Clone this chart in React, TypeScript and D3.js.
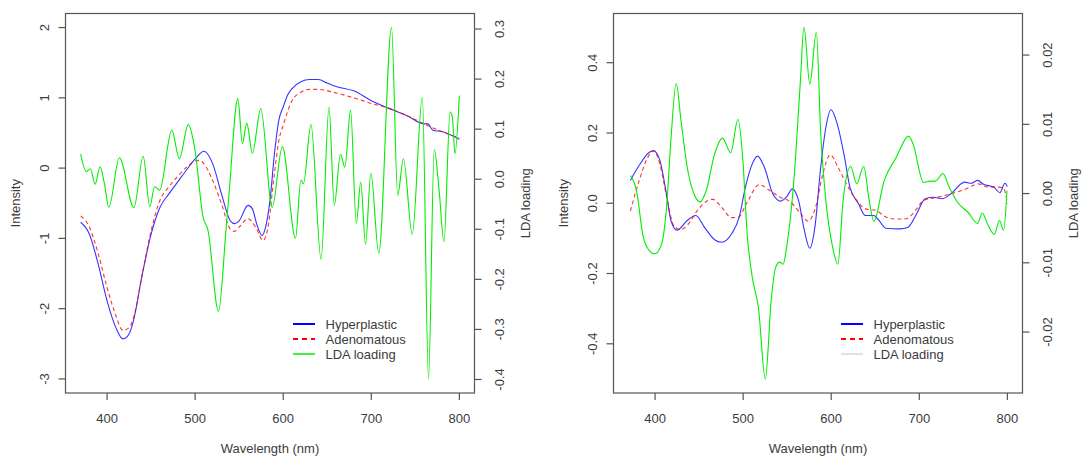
import React from 'react';
import * as d3 from 'd3';

// wavelength (nm), value pairs
const leftHyper: [number, number][] = [
  [370, -0.77], [380, -0.94], [390, -1.37], [400, -1.89], [410, -2.27], [418, -2.43], [425, -2.36],
  [430, -2.17], [440, -1.51], [450, -0.94], [460, -0.56], [470, -0.37], [480, -0.2], [490, -0.03],
  [500, 0.13], [510, 0.24], [520, 0.06], [530, -0.37], [540, -0.75], [545, -0.79], [550, -0.75],
  [560, -0.53], [565, -0.58], [570, -0.8], [576, -0.96], [580, -0.84], [585, -0.46], [590, 0.2],
  [595, 0.68], [600, 0.87], [605, 1.04], [610, 1.13], [620, 1.23], [630, 1.26], [640, 1.26],
  [650, 1.21], [660, 1.16], [680, 1.1], [700, 0.96], [720, 0.85], [740, 0.75], [760, 0.63],
  [764, 0.63], [770, 0.54], [780, 0.52], [800, 0.41],
];
const leftAdeno: [number, number][] = [
  [370, -0.68], [380, -0.84], [390, -1.22], [400, -1.7], [410, -2.1], [418, -2.31], [425, -2.27],
  [430, -2.13], [440, -1.51], [450, -0.89], [460, -0.46], [470, -0.27], [480, -0.12], [490, 0.01],
  [500, 0.1], [505, 0.11], [510, 0.06], [520, -0.18], [530, -0.51], [540, -0.87], [545, -0.9],
  [550, -0.84], [560, -0.72], [570, -0.87], [577, -1.03], [582, -0.89], [590, -0.08], [595, 0.39],
  [600, 0.61], [610, 0.96], [620, 1.08], [630, 1.12], [640, 1.12], [660, 1.07], [680, 1.0],
  [700, 0.92], [720, 0.85], [740, 0.75], [760, 0.63], [780, 0.52], [800, 0.43],
];
const leftLda: [number, number][] = [
  [370, 0.05], [376.5, 0.015], [381, 0.021], [386.5, -0.01], [392, 0.025], [397, -0.009], [402, -0.056],
  [414, 0.043], [430.5, -0.057], [441, 0.046], [448.5, -0.055], [454, -0.015], [459.7, -0.022],
  [473.5, 0.098], [482, 0.041], [492.2, 0.109], [499.6, 0.061], [509, -0.075], [514.6, -0.102],
  [526.5, -0.264], [535, -0.102], [538.8, -0.022], [548.5, 0.161], [553.7, 0.071], [558.6, 0.112],
  [565, 0.052], [574.5, 0.141], [587.5, -0.056], [599, 0.065], [614, -0.118], [620, -0.002],
  [623, -0.009], [631.5, 0.109], [643, -0.16], [652, 0.144], [658, -0.052], [665, 0.05], [670, 0.024],
  [676.5, 0.138], [683, -0.088], [688, -0.006], [693.5, -0.13], [699.5, 0.012], [708.5, -0.148],
  [723, 0.303], [730, -0.032], [736.5, 0.041], [746.5, -0.11], [758, 0.164], [765, -0.399],
  [771.5, 0.06], [777, -0.022], [782.5, -0.125], [789.5, 0.134], [792, 0.125], [795, 0.051], [800, 0.167],
];

const rightHyper: [number, number][] = [
  [372, 0.065], [382, 0.108], [394, 0.146], [398.4, 0.149], [405.4, 0.122], [413.2, 0.022],
  [418, -0.049], [425, -0.077], [436.5, -0.049], [446.3, -0.035], [456, -0.068], [467.6, -0.104],
  [475.4, -0.111], [487, -0.087], [495.6, -0.039], [502.6, 0.046], [510.4, 0.112], [516.2, 0.134],
  [524, 0.103], [533.7, 0.027], [542.7, 0.006], [549.3, 0.018], [555.9, 0.041], [562.9, 0.008],
  [569.5, -0.077], [575.7, -0.128], [581.5, -0.068], [588.1, 0.103], [594, 0.217], [599.8, 0.266],
  [606.8, 0.226], [615.4, 0.127], [621.2, 0.046], [630.9, -0.001], [638.7, -0.035], [648.4, -0.035],
  [654.2, -0.049], [662, -0.071], [677.6, -0.073], [687.3, -0.068], [697, -0.03], [706.7, 0.013],
  [716.4, 0.017], [726.1, 0.013], [735.9, 0.027], [751.4, 0.06], [759.2, 0.057], [766.2, 0.065],
  [772.8, 0.054], [784.5, 0.046], [791.5, 0.03], [797.3, 0.057], [800, 0.048],
];
const rightAdeno: [number, number][] = [
  [372, -0.022], [382, 0.065], [391.8, 0.131], [398.4, 0.15], [405.4, 0.112], [413.2, 0.018],
  [421, -0.063], [428.8, -0.075], [436.5, -0.063], [448.2, -0.02], [458, 0.005], [465.7, 0.011],
  [475.4, -0.011], [487, -0.041], [494.8, -0.039], [504.6, 0.003], [518.2, 0.053], [529.8, 0.037],
  [541.5, 0.018], [553.2, 0.005], [564.8, -0.028], [573.8, -0.051], [582.3, -0.011], [590.1, 0.079],
  [599, 0.138], [607.6, 0.103], [619.3, 0.046], [629, 0.008], [638.7, -0.016], [650.3, -0.02],
  [662, -0.039], [673.7, -0.045], [685.4, -0.044], [697, -0.016], [704.8, 0.008], [720.3, 0.017],
  [735.9, 0.027], [751.4, 0.039], [767, 0.055], [778.6, 0.046], [790.3, 0.046], [796.1, 0.041], [800, -0.001],
];
const rightLda: [number, number][] = [
  [372, 0.0026], [379, 0.0004], [386, -0.0059], [393.8, -0.0083], [399.6, -0.0087], [407.4, -0.0073],
  [413, -0.002], [417.9, 0.0076], [424, 0.0159], [429.5, 0.0105], [436.5, 0.0038], [444.3, -0.0001],
  [451.3, -0.0012], [458, 0.0004], [467.6, 0.0057], [476.6, 0.008], [485.9, 0.0059], [494, 0.0107],
  [499.5, 0.0052], [504.6, -0.0059], [510.4, -0.0121], [517.4, -0.0165], [525.2, -0.0268],
  [531.8, -0.0155], [536.8, -0.0107], [541.5, -0.0099], [545.4, -0.0102], [549.3, -0.0078],
  [557, 0.0009], [564.8, 0.0158], [569.1, 0.024], [575.7, 0.0158], [583.1, 0.0233], [588.1, 0.0086],
  [594, -0.0011], [601.7, -0.0078], [607.6, -0.0102], [613.4, -0.0011], [622, 0.0039], [629, 0.0014],
  [636.8, 0.0039], [643.3, -0.0011], [648.4, -0.004], [660, 0.0018], [673.7, 0.0052], [688, 0.0083],
  [693.1, 0.0071], [704.8, 0.0016], [712.5, 0.0018], [718.4, 0.0018], [726.9, 0.0029], [734, 0.0009],
  [743.6, -0.0013], [755.3, -0.0027], [766.2, -0.0043], [771.6, -0.0028], [777.5, -0.0044],
  [785.2, -0.0059], [791, -0.0039], [795.7, -0.0053], [799.6, 0.0004],
];

const xTicks = [400, 500, 600, 700, 800];
const leftYTicks = [-3, -2, -1, 0, 1, 2];
const leftLdaTicks = [-0.4, -0.3, -0.2, -0.1, 0, 0.1, 0.2, 0.3];
const rightYTicks = [-0.4, -0.2, 0, 0.2, 0.4];
const rightLdaTicks = [-0.02, -0.01, 0, 0.01, 0.02];
const legendLabels = ['Hyperplastic', 'Adenomatous', 'LDA loading'];

const FONT = '"Liberation Sans", Arial, sans-serif';
const TXT = '#3c3c3c';
const AX = '#555';

const Panel = ({ ox, hyper, adeno, lda, yDomain, yTicks, yDigits, ldaDomain, ldaTicks, ldaDigits, ldaLegend }) => {
  const left = ox + 65.5, right = ox + 474.5, top = 13.5, bottom = 393;
  const x = d3.scaleLinear().domain([352.8, 817.2]).range([left, right]);
  const y = d3.scaleLinear().domain(yDomain).range([bottom, top]);
  const y2 = d3.scaleLinear().domain(ldaDomain).range([bottom, top]);

  const line = d3.line<[number, number]>().x(d => x(d[0])).y(d => y(d[1])).curve(d3.curveMonotoneX);
  const line2 = d3.line<[number, number]>().x(d => x(d[0])).y(d => y2(d[1])).curve(d3.curveMonotoneX);
  const midY = (top + bottom) / 2;
  const legendRows = [
    { stroke: '#0000ff', dash: null, w: 2 },
    { stroke: '#ff0000', dash: '5,4', w: 2 },
    { stroke: ldaLegend, dash: null, w: 1.5 },
  ];

  return (
    <g fontFamily={FONT} fontSize={13} fill={TXT}>
      <path d={line(hyper)} fill="none" stroke="#0000ff" strokeOpacity={0.8} strokeWidth={1.1} />
      <path d={line(adeno)} fill="none" stroke="#ff0000" strokeOpacity={0.8} strokeWidth={1.1} strokeDasharray="4,3" />
      <path d={line2(lda)} fill="none" stroke="#00ee00" strokeWidth={1.1} />

      <rect x={left} y={top} width={right - left} height={bottom - top} fill="none" stroke={AX} strokeWidth={1.2} />

      {xTicks.map(t => (
        <g key={'x' + t}>
          <line x1={x(t)} x2={x(t)} y1={bottom} y2={bottom + 7} stroke={AX} strokeWidth={1.2} />
          <text x={x(t)} y={422.5} textAnchor="middle">{t}</text>
        </g>
      ))}
      {yTicks.map(t => (
        <g key={'y' + t}>
          <line x1={left - 7} x2={left} y1={y(t)} y2={y(t)} stroke={AX} strokeWidth={1.2} />
          <text transform={`translate(${left - 17},${y(t)}) rotate(-90)`} textAnchor="middle">{t.toFixed(yDigits)}</text>
        </g>
      ))}
      {ldaTicks.map(t => (
        <g key={'l' + t}>
          <line x1={right} x2={right + 7} y1={y2(t)} y2={y2(t)} stroke={AX} strokeWidth={1.2} />
          <text transform={`translate(${right + 29.5},${y2(t)}) rotate(-90)`} textAnchor="middle">{t.toFixed(ldaDigits)}</text>
        </g>
      ))}

      <text x={(left + right) / 2} y={453} textAnchor="middle">Wavelength  (nm)</text>
      <text transform={`translate(${ox + 20},${midY}) rotate(-90)`} textAnchor="middle">Intensity</text>
      <text transform={`translate(${ox + 529.5},${midY}) rotate(-90)`} textAnchor="middle">LDA loading</text>

      {legendLabels.map((lab, i) => (
        <g key={lab}>
          <line x1={ox + 293} x2={ox + 315} y1={324 + i * 15} y2={324 + i * 15}
            stroke={legendRows[i].stroke} strokeWidth={legendRows[i].w}
            strokeDasharray={legendRows[i].dash || undefined} />
          <text x={ox + 325.5} y={328.5 + i * 15}>{lab}</text>
        </g>
      ))}
    </g>
  );
};

export default function App() {
  return (
    <svg width={1085} height={457} style={{ position: 'fixed', left: 0, top: 0, background: '#fff' }}>
      <Panel ox={0} hyper={leftHyper} adeno={leftAdeno} lda={leftLda}
        yDomain={[-3.2, 2.2]} yTicks={leftYTicks} yDigits={0}
        ldaDomain={[-0.427, 0.331]} ldaTicks={leftLdaTicks} ldaDigits={1} ldaLegend="#00ee00" />
      <Panel ox={548} hyper={rightHyper} adeno={rightAdeno} lda={rightLda}
        yDomain={[-0.54, 0.54]} yTicks={rightYTicks} yDigits={1}
        ldaDomain={[-0.0288, 0.026]} ldaTicks={rightLdaTicks} ldaDigits={2} ldaLegend="#d8d8d8" />
    </svg>
  );
}
